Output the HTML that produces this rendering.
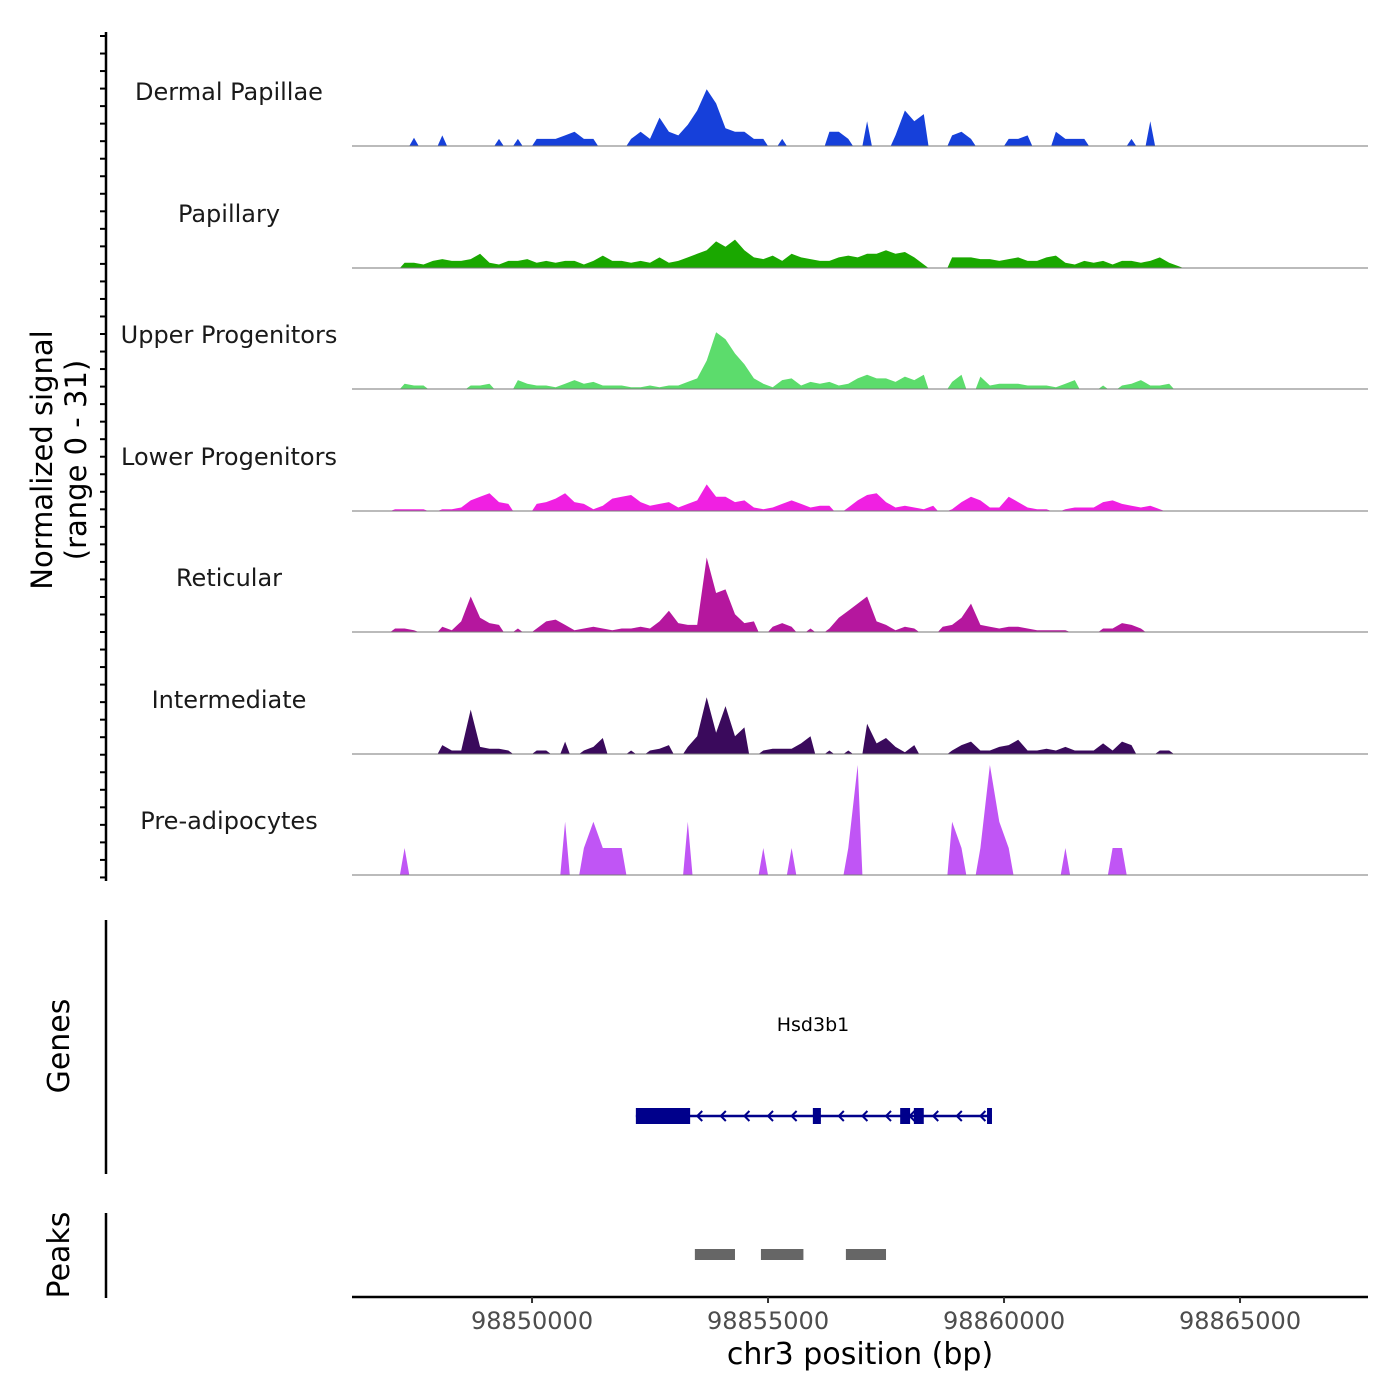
<!DOCTYPE html>
<html><head><meta charset="utf-8">
<style>
html,body{margin:0;padding:0;background:#fff;}
svg{display:block;font-family:"DejaVu Sans","Liberation Sans",sans-serif;}
</style></head>
<body>
<svg id="chart" width="1400" height="1400" viewBox="0 0 1400 1400">
<g id="tracks"></g>
<g id="yaxis"></g>
<text x="52" y="460" font-size="29" fill="#000" text-anchor="middle" transform="rotate(-90 52 460)">Normalized signal</text>
<text x="86" y="460" font-size="29" fill="#000" text-anchor="middle" transform="rotate(-90 86 460)">(range 0 - 31)</text>
<line x1="106" y1="920" x2="106" y2="1174" stroke="#000" stroke-width="2.5"/>
<text x="69" y="1046" font-size="30" text-anchor="middle" transform="rotate(-90 69 1046)">Genes</text>
<line x1="106" y1="1213" x2="106" y2="1298" stroke="#000" stroke-width="2.5"/>
<text x="69" y="1255" font-size="30" text-anchor="middle" transform="rotate(-90 69 1255)">Peaks</text>
<g id="genes"></g>
<g id="peaks"></g>
<g id="xaxis"></g>
<text x="860" y="1364" font-size="30" text-anchor="middle" fill="#000">chr3 position (bp)</text>
</svg>
<script>
const binStart = 98847100;
const binSize = 200;
const trackNames = ["Dermal Papillae","Papillary","Upper Progenitors","Lower Progenitors","Reticular","Intermediate","Pre-adipocytes"];
const trackColors = ["#1640da","#1aa800","#5cdc6c","#f020e2","#b5179e","#3a0a5c","#c055f5"];
const dermalPapillae = [0,0,2.3,0,0,3,0,0,0,0,0,2,0,2,0,2,2,2,3,4,2,2,0,0,0,2,4,2,8,4,3,6,10,16,12,5,4,4,2,2,0,2,0,0,0,0,4,4,2,0,7,0,0,3,10,7,9,0,0,3,4,2,0,0,0,2,2,3,0,0,4,2,2,2,0,0,0,0,2,0,7,0,0];
const papillary = [0,1.5,1.5,1,2,2.5,2,2,2.5,4,1.5,1,2,2,2.5,1.5,2,1.5,2,2,1,2,3.5,2,2,1.5,2,1.5,3,1.5,2,3,4,5,7.5,6,8,5,3,2.5,3.5,2,4,3,2.5,2,2,3,3.5,3,4,4,5,4,4.5,3,1,0,0,3,3,3,2.5,2.5,2,2.5,3,2,2,3,3.5,1.5,1,2,1.5,2,1,2,2,1.5,2,3,1.5,0.5];
const upperProgenitors = [0,1.5,1,1,0,0,0,0,1,1,1.5,0,0,2.5,1.5,1,1,0.5,1.5,2.5,1.5,2,1,1,1,0.5,0.5,1,0.5,1,1,2,3,8,16,14,10,7,3,1.5,0.5,2.5,3,1,2,1.5,2,1,1.5,3,4,3,3,2,3.5,2.5,4,0,0,2,4,0,3.5,1,1.5,1.5,1.5,1,1,1,0.5,1.5,2.5,0,0,1,0,1,1.5,2.5,1,1,1.5];
const lowerProgenitors = [0.5,0.5,0.5,0.5,0,0.5,0.5,1,3,4,5,2.5,2,0,0,2,2.5,3.5,5,2.5,2,0.5,1.5,3.5,4,4.5,2.5,1.5,2,2.5,1,2,3,7.5,4,4,2.5,3,1,0.5,1,2,3,2,1,1.5,1.5,0,1,3,4.5,5,2.5,1,1.5,1,0.5,1.5,0,0.5,2.5,4,3,1,1,4,2.5,1,0.5,0.5,0,0.5,1,1,1,2.5,3,2,1.5,1,1.5,0.5,0];
const reticular = [1,1,0.5,0,0,1.5,0.5,3,10,4,2.5,2,0,1,0,1,3,3.5,2,0.5,1,1.5,1,0.5,1,1,1.5,1,3,6,2.5,2,2,21,11,12,5,2.5,3,0,1.5,2.5,1.5,0,1,0,1,4,6,8,10,3,2,0.5,1.5,1,0,0,1.5,2,4,8,2,1.5,1,1.5,1.5,1,0.5,0.5,0.5,0.5,0,0,0,1,1,2.5,2,1,0];
const intermediate = [0,0,0,0,0,2.5,1,1,12.5,2,1.5,1.5,1,0,0,1,1,0,3.5,0,1,2,4.5,0,0,1,0,1,1.5,2.5,0,2,5,16,6,13.5,5,7.5,0,1,1.5,1.5,1.5,3,5,0,1,0,1,0,8.5,3,4.5,2,0.5,2.5,0,0,0,1,2.5,3.5,1,1,2,2.5,4,1,1,1.5,1,2,1,1,1,3,1,3.5,2.5,0,0,1,1];
const preAdipocytes = [0,7.6,0,0,0,0,0,0,0,0,0,0,0,0,0,0,0,0,15,0,7.6,15,7.6,7.6,7.6,0,0,0,0,0,0,15,0,0,0,0,0,0,0,7.6,0,0,7.6,0,0,0,0,0,7.6,31,0,0,0,0,0,0,0,0,0,15,7.6,0,7.6,31,15,7.6,0,0,0,0,0,7.6,0,0,0,0,7.6,7.6,0,0,0,0,0];
const trackValues = [dermalPapillae,papillary,upperProgenitors,lowerProgenitors,reticular,intermediate,preAdipocytes];
const xTicks = [98850000,98855000,98860000,98865000];
const geneExonStarts = [98852200,98855950,98857800,98858090,98859640];
const geneExonEnds = [98853350,98856120,98858010,98858300,98859745];
const geneStart = 98852200, geneEnd = 98859745;
const peakStarts = [98853450,98854850,98856650];
const peakEnds = [98854300,98855750,98857500];

const NS = "http://www.w3.org/2000/svg";
const X0 = 98846186, PXPB = 0.0472, PL = 352, PR = 1368;
function xs(bp){ return PL + (bp - X0) * PXPB; }
const baselines = [146,268,389,511,632,754,875];
const yMax = 31, trackH = 110;
function ys(v, base){ return base - v / yMax * trackH; }
function mk(tag, attrs, parent){ const e = document.createElementNS(NS, tag); for (const k in attrs) e.setAttribute(k, attrs[k]); parent.appendChild(e); return e; }

const tg = document.getElementById("tracks");
const labelY = [92,214,335,457,578,700,821];
trackValues.forEach((vals, t) => {
  const base = baselines[t];
  let d = "";
  let open = false;
  vals.forEach((v, i) => {
    const x = xs(binStart + binSize * i).toFixed(1);
    if (v > 0) {
      if (!open) { const xp = xs(binStart + binSize * (i - 0.5)).toFixed(1); d += "M" + xp + "," + base + " "; open = true; }
      d += "L" + x + "," + ys(v, base).toFixed(1) + " ";
    } else if (open) {
      const xn = xs(binStart + binSize * (i - 0.5)).toFixed(1);
      d += "L" + xn + "," + base + " Z "; open = false;
    }
  });
  if (open) { d += "L" + xs(binStart + binSize * (vals.length - 0.5)).toFixed(1) + "," + base + " Z"; }
  const p = mk("path", {d: d, fill: trackColors[t]}, tg);
  
  
  const bl = mk("line", {x1: PL, x2: PR, y1: base, y2: base, stroke: "#777", "stroke-width": 1}, tg);
  
  
  const lb = mk("text", {x: 229, y: labelY[t] + 8, "font-size": 24, "text-anchor": "middle", fill: "#1a1a1a"}, tg);
  lb.textContent = trackNames[t];
  
  
});

const ya = document.getElementById("yaxis");
mk("line", {x1: 106, x2: 106, y1: 32, y2: 881, stroke: "#000", "stroke-width": 2.5}, ya);
for (let k = 0; k < 49; k++) {
  const y = 36 + k * 17.53;
  const tk = mk("line", {x1: 100, x2: 106, y1: y, y2: y, stroke: "#000", "stroke-width": 2}, ya);
  
  
}

const gg = document.getElementById("genes");
const gl = mk("text", {x: 813, y: 1031, "font-size": 19, "text-anchor": "middle", fill: "#000"}, gg);
gl.textContent = "Hsd3b1";


const gy = 1116;
const gline = mk("line", {x1: xs(geneStart), x2: xs(geneEnd), y1: gy, y2: gy, stroke: "#00008b", "stroke-width": 2.5}, gg);


for (let bp = geneStart + 1300; bp < geneEnd - 200; bp += 500) {
  const x = xs(bp);
  const ar = mk("polyline", {points: (x+5)+","+(gy-5)+" "+x+","+gy+" "+(x+5)+","+(gy+5), fill: "none", stroke: "#00008b", "stroke-width": 2}, gg);
  
  
}
geneExonStarts.forEach((s, i) => {
  const x1 = xs(s), x2 = xs(geneExonEnds[i]);
  const ex = mk("rect", {x: x1, y: gy - 8, width: Math.max(x2 - x1, 4), height: 16, fill: "#00008b"}, gg);
  
  
});

const pg = document.getElementById("peaks");
peakStarts.forEach((s, i) => {
  const r = mk("rect", {x: xs(s), y: 1249, width: xs(peakEnds[i]) - xs(s), height: 11, fill: "#666666"}, pg);
  
  
});

const xa = document.getElementById("xaxis");
mk("line", {x1: PL, x2: PR, y1: 1297, y2: 1297, stroke: "#000", "stroke-width": 2.5}, xa);
xTicks.forEach(v => {
  const x = xs(v);
  const t = mk("line", {x1: x, x2: x, y1: 1297, y2: 1303, stroke: "#333", "stroke-width": 2}, xa);
  
  
  const l = mk("text", {x: x, y: 1329, "font-size": 24, "text-anchor": "middle", fill: "#4d4d4d"}, xa);
  l.textContent = String(v);
  
  
});
</script>
</body></html>
